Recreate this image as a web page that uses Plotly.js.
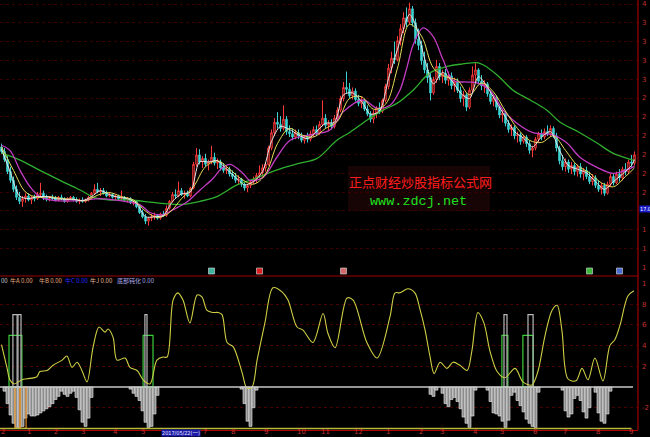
<!DOCTYPE html>
<html>
<head>
<meta charset="utf-8">
<script src="https://cdn.plot.ly/plotly-3.0.1.min.js"></script>
<style>
  html, body { margin: 0; padding: 0; background: #000; }
  #chart { width: 650px; height: 437px; }
</style>
</head>
<body>
<div id="chart"></div>
<script>
// ---- price bars (one bar per slot, index 0..211) ----
const openP = [
  24.9,24.5,23.8,22.8,22.1,21.4,20.8,20.5,20.7,20.9,
  20.6,20.8,20.7,21.0,21.1,20.8,20.7,20.8,20.7,20.6,
  20.8,20.7,20.5,20.7,20.8,20.6,20.5,20.6,20.5,20.6,
  20.8,21.1,21.4,21.2,21.3,21.1,20.9,21.0,20.8,20.9,
  20.7,20.8,20.6,20.7,20.4,20.5,20.1,19.7,19.4,19.1,
  19.3,19.4,19.5,19.3,19.6,19.5,20.0,20.5,21.0,20.9,
  21.3,21.0,21.1,20.9,21.5,23.4,24.2,23.6,23.9,23.4,
  23.6,24.0,23.5,23.6,23.1,22.9,23.0,22.6,22.4,22.1,
  22.2,21.8,21.5,21.7,22.0,22.2,22.5,22.7,23.1,23.4,
  24.8,26.2,27.2,27.0,26.6,27.5,26.3,26.1,25.8,26.2,
  25.9,25.5,25.8,25.6,26.1,26.5,26.2,27.0,27.6,26.9,
  27.1,26.8,27.6,28.4,29.6,30.8,30.6,29.9,30.4,29.5,
  29.1,29.4,28.5,28.0,27.5,28.1,28.6,28.3,29.4,30.9,
  33.0,34.2,34.0,36.4,38.0,39.5,38.9,40.8,38.8,36.6,
  35.8,33.9,32.8,31.9,30.2,31.7,33.2,32.0,32.4,31.6,
  32.1,31.0,31.5,30.5,29.6,30.0,28.7,30.5,32.2,32.8,
  31.5,31.0,31.2,30.1,29.3,29.7,28.7,27.9,28.1,27.1,
  26.5,26.7,25.9,26.0,25.4,25.8,25.2,24.6,24.8,25.6,
  26.1,25.8,26.3,26.1,26.6,25.9,24.8,23.7,23.2,23.6,
  23.0,23.3,22.8,23.2,22.6,22.9,22.4,22.0,22.3,21.7,
  21.4,21.7,21.1,21.8,22.4,21.9,22.6,22.3,23.0,22.8,
  23.6,23.5
];
const highP = [
  25.2,24.8,24.1,23.2,22.4,21.7,21.2,20.9,21.1,21.1,
  20.9,21.0,21.2,21.9,21.3,21.0,20.9,21.0,20.9,20.9,
  21.0,20.8,20.8,20.9,20.9,20.8,20.7,20.8,20.7,20.9,
  21.2,21.8,21.9,21.5,21.5,21.3,21.2,21.1,21.0,21.0,
  21.3,20.9,20.8,20.8,20.6,20.6,20.3,19.9,19.6,19.4,
  19.6,19.7,19.6,19.7,19.8,20.2,20.6,21.2,21.4,22.0,
  21.5,21.3,21.3,21.6,23.6,24.8,24.7,24.1,24.3,23.8,
  25.0,24.4,23.9,23.8,23.5,23.3,23.2,22.9,22.7,22.5,
  22.3,22.0,21.8,22.1,22.4,22.7,23.3,23.4,23.6,25.0,
  26.5,27.6,28.2,27.8,28.9,27.8,26.9,26.6,26.5,26.5,
  26.2,26.0,26.2,26.4,26.8,26.9,27.3,29.4,28.0,27.4,
  27.5,27.9,28.7,29.9,31.4,32.6,31.3,30.8,30.7,30.0,
  29.8,29.6,28.9,28.3,28.4,28.8,29.2,29.6,31.2,33.5,
  35.0,36.3,37.0,38.6,40.3,41.0,41.7,41.2,39.4,38.0,
  36.4,35.0,33.6,32.4,32.0,34.0,33.6,32.8,32.9,32.6,
  32.5,31.9,31.8,30.9,30.4,30.2,30.8,33.2,33.6,33.0,
  32.2,31.6,31.4,30.5,30.0,29.9,29.0,28.5,28.3,27.4,
  27.0,26.9,26.3,26.2,26.0,26.0,25.5,25.0,25.8,26.3,
  26.5,26.6,26.9,26.9,26.8,26.2,25.0,24.2,23.9,23.8,
  23.6,23.5,23.4,23.5,23.1,23.2,22.8,22.6,22.5,22.1,
  21.9,21.9,22.0,22.6,22.6,22.8,23.0,23.2,23.5,23.8,
  24.2,24.5
];
const lowP = [
  24.3,23.6,22.6,21.9,21.2,20.6,20.3,20.1,20.4,20.5,
  20.3,20.5,20.6,20.9,20.6,20.5,20.5,20.6,20.5,20.5,
  20.6,20.4,20.4,20.6,20.5,20.4,20.3,20.4,20.4,20.5,
  20.7,21.0,21.1,20.9,21.0,20.8,20.8,20.7,20.6,20.6,
  20.6,20.5,20.4,20.3,20.2,20.0,19.6,19.3,18.9,18.8,
  19.1,19.2,19.2,19.2,19.4,19.4,19.9,20.4,20.7,20.8,
  20.9,20.7,20.8,20.8,21.4,23.2,23.4,23.1,23.2,22.9,
  23.4,23.3,23.0,22.9,22.7,22.6,22.4,22.2,21.9,21.8,
  21.6,21.3,21.2,21.5,21.8,21.9,22.3,22.4,22.8,23.3,
  24.6,25.9,26.6,26.3,26.4,26.0,25.8,25.5,25.6,25.6,
  25.3,25.2,25.3,25.4,25.8,25.9,26.0,26.8,26.6,26.4,
  26.5,26.6,27.3,28.2,29.3,30.2,29.6,29.5,29.3,28.8,
  28.6,28.3,27.8,27.2,27.1,27.6,28.0,28.1,29.2,30.6,
  32.4,33.5,33.8,35.8,37.4,38.2,38.6,38.3,36.0,35.2,
  33.4,32.4,31.3,29.4,30.0,31.3,31.6,31.3,31.2,31.0,
  30.6,30.3,30.2,29.2,28.8,28.3,28.5,30.3,31.4,31.2,
  30.5,30.2,29.8,29.0,28.8,28.4,27.6,27.2,26.8,26.2,
  25.9,25.6,25.3,25.1,25.2,24.9,24.3,24.0,24.6,25.3,
  25.5,25.6,25.9,25.8,25.7,24.5,23.4,22.9,22.8,22.7,
  22.6,22.5,22.4,22.3,22.1,22.2,21.8,21.7,21.5,21.2,
  21.0,20.9,21.0,21.6,21.7,21.8,22.0,22.1,22.5,22.6,
  23.2,23.3
];
const closeP = [
  24.5,23.8,22.8,22.1,21.4,20.8,20.5,20.7,20.9,20.6,
  20.8,20.7,21.0,21.1,20.8,20.7,20.8,20.7,20.6,20.8,
  20.7,20.5,20.7,20.8,20.6,20.5,20.6,20.5,20.6,20.8,
  21.1,21.4,21.2,21.3,21.1,20.9,21.0,20.8,20.9,20.7,
  20.8,20.6,20.7,20.4,20.5,20.1,19.7,19.4,19.1,19.3,
  19.4,19.5,19.3,19.6,19.5,20.0,20.5,21.0,20.9,21.3,
  21.0,21.1,20.9,21.5,23.4,24.2,23.6,23.9,23.4,23.6,
  24.0,23.5,23.6,23.1,22.9,23.0,22.6,22.4,22.1,22.2,
  21.8,21.5,21.7,22.0,22.2,22.5,22.7,23.1,23.4,24.8,
  26.2,27.2,27.0,26.6,27.5,26.3,26.1,25.8,26.2,25.9,
  25.5,25.8,25.6,26.1,26.5,26.2,27.0,27.6,26.9,27.1,
  26.8,27.6,28.4,29.6,30.8,30.6,29.9,30.4,29.5,29.1,
  29.4,28.5,28.0,27.5,28.1,28.6,28.3,29.4,30.9,33.0,
  34.2,34.0,36.4,38.0,39.5,38.9,40.8,38.8,36.6,35.8,
  33.9,32.8,31.9,30.2,31.7,33.2,32.0,32.4,31.6,32.1,
  31.0,31.5,30.5,29.6,30.0,28.7,30.5,32.2,32.8,31.5,
  31.0,31.2,30.1,29.3,29.7,28.7,27.9,28.1,27.1,26.5,
  26.7,25.9,26.0,25.4,25.8,25.2,24.6,24.8,25.6,26.1,
  25.8,26.3,26.1,26.6,25.9,24.8,23.7,23.2,23.6,23.0,
  23.3,22.8,23.2,22.6,22.9,22.4,22.0,22.3,21.7,21.4,
  21.7,21.1,21.8,22.4,21.9,22.6,22.3,23.0,22.8,23.6,
  23.5,24.2
];

// ---- moving averages (bar index, value) ----
const ma5X = [0,3,6,9,12,15,18,21,24,27,30,33,36,39,42,45,48,51,54,57,60,63,66,69,72,75,78,81,84,87,90,93,96,99,102,105,108,111,114,117,120,123,126,129,132,135,136,138,141,144,147,150,153,156,159,162,165,168,171,174,177,180,183,186,189,192,195,198,201,204,207,210,211];
const ma5Y = [24.7,22.7,20.9,20.7,20.85,20.85,20.7,20.65,20.65,20.55,20.85,21.3,21.0,20.8,20.7,20.35,19.4,19.4,19.5,20.5,21.05,21.2,23.6,23.6,23.7,23.0,22.35,21.75,22.0,22.8,25.4,26.8,26.5,26.0,25.65,26.3,27.1,27.2,30.0,30.2,29.3,28.0,28.3,31.8,35.3,39.2,40.0,38.6,34.2,31.2,32.5,31.6,30.2,29.6,32.0,30.8,29.2,27.7,26.3,25.7,24.9,25.8,26.3,24.6,23.3,23.0,22.7,22.0,21.4,22.0,22.6,23.3,23.8];
const ma10X = [0,4,8,12,16,20,24,28,32,36,40,44,48,52,56,60,64,68,72,76,80,84,88,92,96,100,104,108,112,116,120,124,128,132,136,140,144,148,152,156,160,164,168,172,176,180,184,188,192,196,200,204,208,211];
const ma10Y = [24.9,22.9,21.2,20.8,20.85,20.7,20.65,20.55,20.95,21.15,20.85,20.6,19.8,19.35,19.7,20.7,21.6,23.2,23.7,23.0,22.2,21.8,22.6,25.2,26.6,26.0,25.8,26.6,27.3,29.6,29.8,28.5,29.0,33.0,38.6,37.0,33.0,32.0,31.6,30.0,31.3,30.3,28.3,26.6,25.5,25.3,25.9,24.6,23.3,22.7,21.9,21.6,22.4,23.1];
const ma20X = [0,2.8,6.2,9.5,12.8,17.8,26.2,32.8,39.5,46.2,49.5,53.8,57.2,61.8,66.2,70.5,73.5,76.2,80.5,82.8,87.2,91.8,96.2,102.8,109.5,113.8,120.5,125.2,129.5,132.8,135.2,137.2,140.5,143.8,147.2,150.5,155.2,158.5,162.8,167.2,171.8,177.2,183.8,188.5,192.8,198.5,203.8,209.5,211];
const ma20Y = [25.05,24.6,22.9,21.6,20.85,20.55,20.55,20.7,20.55,20.25,19.7,19.55,19.9,20.45,21.35,22.25,23.1,23.4,22.65,22.1,22.35,24.0,25.5,26.0,26.45,28.2,29.45,28.6,28.9,30.5,33.15,35.85,38.1,37.0,34.0,31.6,31.4,31.3,30.5,28.4,27.1,26.2,26.0,25.25,24.0,23.15,22.65,23.05,23.25];
const ma60X = [0,6.2,12.8,19.5,26.2,31.2,36.2,42.8,49.5,56.2,61.2,66.2,71.8,78.5,82.8,93.8,99.5,105.2,111.8,116.2,121.8,127.2,131.8,137.2,142.8,148.5,153.8,158.5,160.5,165.2,170.5,176.2,181.8,186.2,192.8,198.5,203.8,210.5,211];
const ma60Y = [24.35,23.75,22.9,22.1,21.35,20.75,20.6,20.6,20.45,20.3,20.3,20.5,20.85,21.75,22.1,23.1,23.5,23.9,25.5,26.25,27.4,28.4,29.1,30.5,32.45,33.2,33.5,33.65,33.4,32.2,30.5,29.45,28.4,27.2,26.2,25.25,24.35,23.75,23.7];

// ---- event markers on the price panel ----
const eventIdx = [70, 86, 114, 196, 206];
const eventColors = ['#3fb3a0', '#d82020', '#d06a6a', '#3cb83c', '#4a6cd0'];

// ---- indicator panel ----
const oscX = [0,1.8,2.8,4.2,6.8,8.5,11.8,12.8,15.2,17.2,20.2,21.8,23.5,25.2,26.8,28.5,30.5,32.5,34.5,35.5,37.2,38.5,41.2,42.8,45.2,47.2,49.5,51.8,53.8,55.2,57.2,58.8,60.5,62.8,65.2,66.8,68.5,70.5,72.2,73.5,75.2,77.2,80.2,81.8,83.5,85.2,87.8,90.5,93.5,95.5,98.5,100.5,103.8,107.2,108.8,111.2,115.2,117.2,121.8,125.2,129.5,131.2,132.8,135.5,137.8,139.5,141.2,142.8,144.2,146.2,148.5,150.5,152.8,155.2,156.8,158.8,160.8,162.8,165.2,167.8,171.2,173.8,176.8,178.8,181.2,183.5,185.2,186.8,188.8,191.5,193.5,195.5,197.8,200.5,202.8,204.5,206.2,208.8,210.8];
const oscY = [4.1,1.9,0.7,0.3,0.7,0.8,1.0,1.5,1.6,2.1,2.6,3.0,1.9,2.4,1.6,0.5,3.8,5.8,5.3,5.6,4.8,2.6,2.8,1.9,1.6,0.7,0.3,2.6,2.9,2.9,8.4,9.1,8.4,6.2,8.9,8.7,7.4,7.2,7.2,7.0,4.3,3.9,1.4,-0.1,0.0,2.6,6.2,9.6,9.2,8.4,5.8,5.5,4.3,7.1,5.2,3.8,8.6,8.4,4.3,2.8,6.8,9.1,9.1,9.5,9.1,7.5,5.5,3.0,1.3,2.4,1.8,2.4,2.1,1.6,3.5,7.2,6.2,3.5,1.5,0.9,1.8,0.5,0.2,1.5,5.0,7.4,7.9,5.5,0.8,0.6,1.8,0.7,2.8,0.6,4.0,4.6,6.0,8.8,9.3];

// 底部钝化 histogram (bar index, value)
const histIdx = [
  1,2,3,4,5,6,7,8,9,10,11,12,13,14,15,16,17,18,19,20,21,22,23,24,25,26,27,28,29,30,
  43,44,45,46,47,48,49,50,51,52,
  80,81,82,83,84,85,
  143,144,145,
  147,148,149,150,151,152,153,154,155,156,157,158,
  162,163,164,165,166,167,168,169,170,171,172,173,174,175,176,177,178,179,
  187,188,189,190,191,192,193,194,195,196,
  198,199,200,201,202,203
];
const histVal = [
  -0.4,-1.6,-2.7,-3.5,-3.9,-3.9,-3.8,-3.0,-2.6,-2.8,-2.8,-2.7,-2.5,-2.3,-2.1,-1.9,-1.6,-1.2,-0.9,-0.4,-0.7,-0.9,-0.6,-0.4,-1.0,-2.2,-3.4,-3.8,-3.0,-1.0,
  -0.2,-0.6,-0.9,-1.3,-2.3,-3.4,-3.9,-3.8,-2.6,-0.8,
  -0.2,-1.6,-3.3,-3.8,-2.0,-0.3,
  -0.7,-0.9,-0.3,
  -0.6,-1.6,-1.9,-1.2,-1.0,-1.4,-2.1,-2.9,-3.5,-3.9,-2.8,-0.3,
  -0.3,-1.4,-2.5,-2.6,-2.8,-3.3,-3.9,-3.2,-0.8,-0.5,-1.3,-1.8,-2.4,-3.1,-3.5,-3.8,-3.9,-0.5,
  -0.3,-2.3,-2.9,-2.6,-1.1,-0.8,-1.3,-2.4,-3.0,-2.0,
  -0.5,-2.5,-3.3,-3.5,-2.6,-0.4
];

// signal blocks: [from, to] in bar index, drawn from 0 up (or down) to their level
const sigAFrom = [2.5, 47.2, 166.8, 173.8];
const sigATo   = [6.8, 50.5, 168.8, 177.2];
const sigALevel = 5;
const sigBFrom = [3.8, 5.5, 47.8, 167.5, 175.5];
const sigBTo   = [5.2, 6.5, 48.5, 168.5, 177.2];
const sigBLevel = 7;
const sigJFrom = [4.5, 6.2];
const sigJTo   = [6.2, 8.2];
const sigJLevel = -4;
const baseLevel = -4;

// ---- axis labels ----
const monthIdx = [0.4, 9, 18, 27, 38, 47, 67.9, 77, 88, 100, 108, 119, 129, 140, 147, 158, 167, 178, 188, 199, 210];
const monthText = ['2','1','2','3','4','5','7','8','9','10','11','12','1','2','3','4','5','6','7','8','9'];
const priceGrid = [41.50,38.80,36.28,33.92,31.72,29.66,27.73,25.93,24.24,22.67,21.19,19.82,18.53,17.32,16.20];
// the label at 19.82 sits under the last-price tag, so it stays blank
const priceGridText = ['4','3','3','3','3','2','2','2','2','2','2','','1','1','1'];
const oscGrid = [10, 8, 6, 4, 2, -2];
const oscGridText = ['1','8','6','4','2','-2'];
const lastTag = '17.0';
const cursorDate = '2017/05/22(一)';

const idx = closeP.map((_, i) => i);
const lastIdx = idx[idx.length - 1];

// ---- layout geometry (pixels inside the 650x437 page) ----
const plotW = 638, plotH = 430;
const topDomain = [(plotH - 276) / plotH, 1];
const botDomain = [0, (plotH - 283) / plotH];
const px = x => x / plotW;
const py = y => (plotH - y) / plotH;

const red = '#c03030';

function blocks(from, to, level, color, width) {
  return {
    type: 'bar', xaxis: 'x', yaxis: 'y2',
    x: from.map((f, k) => (f + to[k]) / 2),
    width: from.map((f, k) => to[k] - f),
    y: from.map(() => level),
    base: from.map(() => 0),
    marker: { color: 'rgba(0,0,0,0)', line: { color: color, width: width } },
    hoverinfo: 'skip'
  };
}

const traces = [
  {
    type: 'candlestick', x: idx, open: openP, high: highP, low: lowP, close: closeP,
    xaxis: 'x', yaxis: 'y', whiskerwidth: 0,
    increasing: { line: { color: '#ff3a3a', width: 1 }, fillcolor: '#000000' },
    decreasing: { line: { color: '#3cd2d2', width: 1 }, fillcolor: '#3cd2d2' },
    hoverinfo: 'skip'
  },
  { type: 'scatter', mode: 'lines', x: ma60X, y: ma60Y, xaxis: 'x', yaxis: 'y',
    line: { color: '#2fae2f', width: 1.3, shape: 'spline', smoothing: 1 }, hoverinfo: 'skip' },
  { type: 'scatter', mode: 'lines', x: ma20X, y: ma20Y, xaxis: 'x', yaxis: 'y',
    line: { color: '#c33cc3', width: 1.3, shape: 'spline', smoothing: 1 }, hoverinfo: 'skip' },
  { type: 'scatter', mode: 'lines', x: ma10X, y: ma10Y, xaxis: 'x', yaxis: 'y',
    line: { color: '#e6e05a', width: 1, shape: 'spline', smoothing: 1 }, hoverinfo: 'skip' },
  { type: 'scatter', mode: 'lines', x: ma5X, y: ma5Y, xaxis: 'x', yaxis: 'y',
    line: { color: '#e8e8e8', width: 1, shape: 'spline', smoothing: 0.8 }, hoverinfo: 'skip' },
  { type: 'scatter', mode: 'markers', x: eventIdx, y: eventIdx.map(() => 0.5), xaxis: 'x', yaxis: 'y3',
    marker: { symbol: 'square', size: 6, color: eventColors, line: { color: '#dddddd', width: 0.6 } },
    hoverinfo: 'skip', cliponaxis: false },

  // indicator panel
  { type: 'bar', x: histIdx, y: histVal, xaxis: 'x', yaxis: 'y2', width: 1,
    marker: { color: '#8c8c8c', line: { color: '#f2f2f2', width: 0.6 } }, hoverinfo: 'skip' },
  blocks(sigJFrom, sigJTo, sigJLevel, '#e08a20', 1.2),
  blocks(sigAFrom, sigATo, sigALevel, '#3ccc3c', 1.2),
  blocks(sigBFrom, sigBTo, sigBLevel, '#b8b8b8', 1.2),
  { type: 'scatter', mode: 'lines', x: oscX, y: oscY, xaxis: 'x', yaxis: 'y2',
    line: { color: '#cfcf45', width: 1.1, shape: 'spline', smoothing: 0.9 }, hoverinfo: 'skip' }
];

const tickFont = { family: 'DejaVu Sans, Noto Sans CJK SC', size: 7, color: red };

// month labels sit just under the bottom axis line
const monthNotes = monthIdx.map((m, k) => ({
  text: monthText[k], xref: 'x', yref: 'paper', x: m, y: py(436.5),
  yanchor: 'bottom', showarrow: false, borderpad: 0,
  font: { family: 'DejaVu Sans', size: 7, color: red }
}));

const legendRow = [
  ['00', 0, '#c8c8c8'],
  ['牛A 0.00', 9, '#e6a878'],
  ['牛B 0.00', 38, '#e6a878'],
  ['牛C 0.00', 64, '#2a2aff'],
  ['牛J 0.00', 89, '#e6b898'],
  ['底部钝化 0.00', 116, '#a8a8e8']
].map(([t, x, c]) => ({
  text: t, xref: 'paper', yref: 'paper', x: px(x), y: py(280.5), xanchor: 'left', showarrow: false,
  borderpad: 0, font: { family: 'Noto Sans CJK SC, DejaVu Sans', size: 6, color: c }
}));

const layout = {
  width: 650, height: 437,
  margin: { l: 0, r: 12, t: 0, b: 7, pad: 0 },
  paper_bgcolor: '#000', plot_bgcolor: '#000',
  showlegend: false,
  barmode: 'overlay', bargap: 0,
  font: { family: 'DejaVu Sans, Noto Sans CJK SC', size: 7, color: red },
  xaxis: {
    anchor: 'y2', range: [-0.5, 212.17], showticklabels: false,
    showgrid: false, zeroline: false, showline: true, linecolor: '#b00000', linewidth: 1,
    ticks: '', rangeslider: { visible: false }, fixedrange: true
  },
  yaxis: {
    domain: topDomain, type: 'log', range: [Math.log10(15.70), Math.log10(42.10)], side: 'right',
    tickmode: 'array', tickvals: priceGrid, ticktext: priceGridText,
    showgrid: true, gridcolor: '#3a0000', griddash: 'dot', gridwidth: 1, zeroline: false, showline: false,
    ticks: '', tickfont: tickFont, ticklabelstandoff: 3, fixedrange: true
  },
  yaxis2: {
    domain: botDomain, range: [-4.15, 10.05], side: 'right',
    tickmode: 'array', tickvals: oscGrid, ticktext: oscGridText,
    showgrid: true, gridcolor: '#480000', griddash: 'dot', gridwidth: 1, zeroline: false, showline: false,
    ticks: '', tickfont: tickFont, ticklabelstandoff: 3, fixedrange: true
  },
  yaxis3: { domain: [py(276), py(266)], range: [0, 1], visible: false, fixedrange: true },
  shapes: [
    // watermark panel
    { type: 'rect', xref: 'paper', yref: 'paper', x0: px(348), x1: px(490), y0: py(211), y1: py(166),
      fillcolor: '#170404', line: { width: 0 }, layer: 'below' },
    // zero line and base line of the indicator
    { type: 'line', xref: 'x', yref: 'y2', x0: -0.5, x1: lastIdx - 0.5, y0: 0, y1: 0,
      line: { color: '#c8c8c8', width: 1.5 } },
    { type: 'line', xref: 'x', yref: 'y2', x0: -0.5, x1: lastIdx - 1, y0: baseLevel, y1: baseLevel,
      line: { color: '#b8b83a', width: 1.5 } },
    // panel borders
    { type: 'line', xref: 'paper', yref: 'paper', x0: 0, x1: 1, y0: topDomain[0], y1: topDomain[0],
      line: { color: '#a00000', width: 1 } },
    { type: 'line', xref: 'paper', yref: 'paper', x0: 1, x1: 1, y0: 0, y1: 1,
      line: { color: '#c00000', width: 1 } }
  ],
  annotations: [
    { text: '正点财经炒股指标公式网', xref: 'paper', yref: 'paper', x: px(420), y: py(182),
      showarrow: false, font: { family: 'Noto Sans CJK SC', size: 13, color: '#ff1c1c' } },
    { text: 'www.zdcj.net', xref: 'paper', yref: 'paper', x: px(418), y: py(201),
      showarrow: false, font: { family: 'Liberation Mono, DejaVu Sans Mono', size: 13.5, color: '#1fe01f' } },
    { text: lastTag, xref: 'paper', yref: 'paper', x: 1, xshift: 0.5, y: py(209), xanchor: 'left',
      showarrow: false, bgcolor: '#1a1ac8', borderpad: 0,
      font: { family: 'DejaVu Sans Condensed, DejaVu Sans', size: 5.5, color: '#ffffff' } },
    { text: cursorDate, xref: 'paper', yref: 'paper', x: px(161), y: py(436.5), xanchor: 'left',
      yanchor: 'bottom', showarrow: false, bgcolor: '#1c1ca8', borderpad: 0,
      font: { family: 'DejaVu Sans Condensed, Noto Sans CJK SC', size: 5.5, color: '#e8e8ff' } }
  ].concat(legendRow, monthNotes)
};

Plotly.newPlot('chart', traces, layout, { staticPlot: true, displayModeBar: false });
</script>
</body>
</html>
